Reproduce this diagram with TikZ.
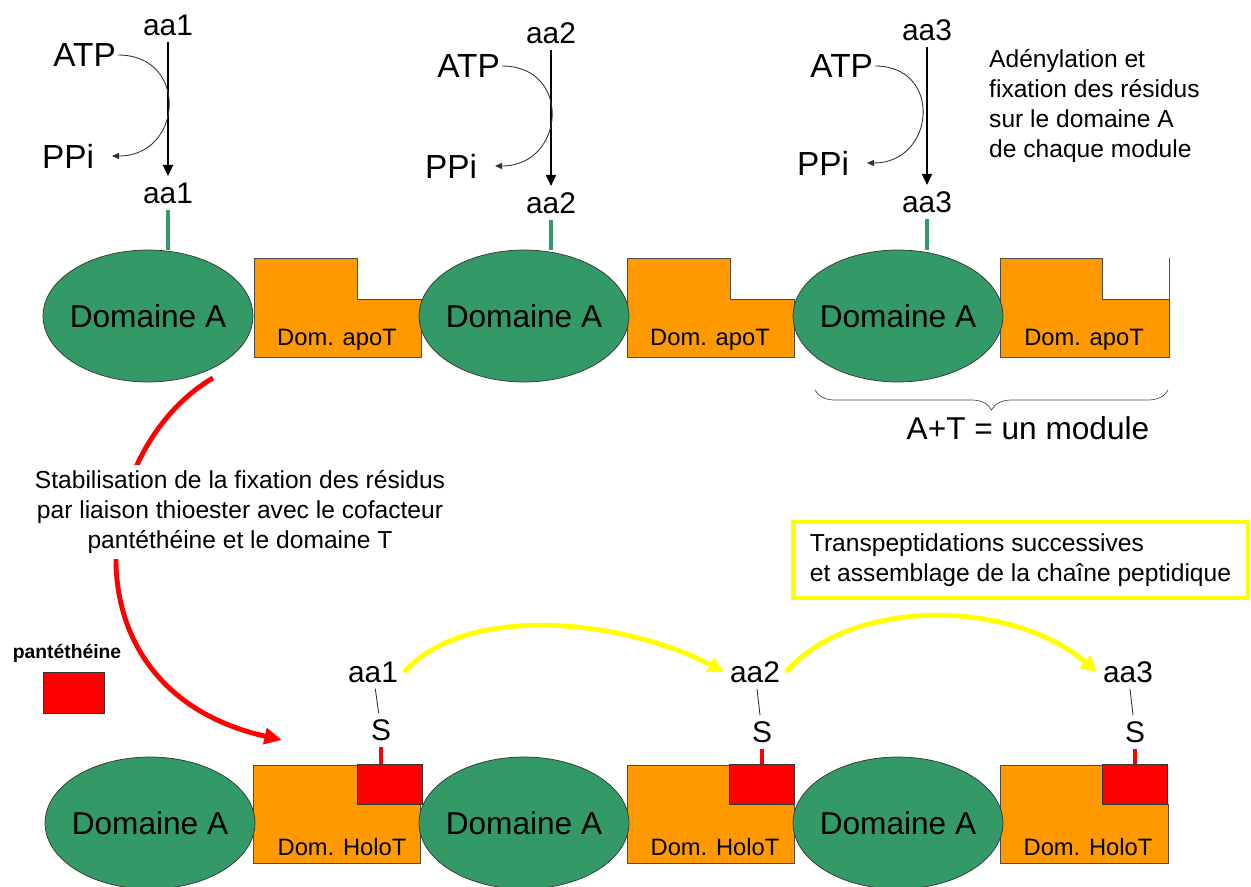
\documentclass[tikz,border=0pt]{standalone}
\usepackage{fontspec}
\setmainfont{Liberation Sans}
\usepackage{xcolor}
\usetikzlibrary{arrows.meta, shapes.geometric, decorations.pathreplacing}
\definecolor{domgreen}{HTML}{339966}
\definecolor{domorange}{HTML}{FF9900}
\definecolor{pantred}{HTML}{FF0000}
\definecolor{transyellow}{HTML}{FFFF00}

\begin{document}
\begin{tikzpicture}[x=0.02cm, y=-0.02cm, >=Triangle]
    % Define styles for domains, labels and arrows
    \tikzstyle{domA} = [draw=black!80, fill=domgreen, ellipse, inner sep=0pt, minimum width=4.2cm, minimum height=2.64cm, font=\fontsize{18}{21}\selectfont]
    \tikzstyle{domT} = [draw=black!70, fill=domorange]
    \tikzstyle{tlabel} = [font=\fontsize{13.5}{16}\selectfont]
    \tikzstyle{amino} = [font=\fontsize{17}{20}\selectfont]
    \tikzstyle{chem} = [font=\fontsize{19}{22}\selectfont, inner sep=1pt]
    \tikzstyle{note} = [font=\fontsize{14}{17}\selectfont]
    \tikzstyle{panteth} = [draw=black!80, fill=pantred, minimum width=1.3cm, minimum height=0.8cm, inner sep=0pt]
    \tikzstyle{activation} = [-{Triangle[length=6.5pt,width=5.5pt]}, line width=1.6pt]
    \tikzstyle{cofactor} = [-{Triangle[length=4pt,width=3.5pt]}, line width=0.5pt, draw=black!80]
    \tikzstyle{greenstick} = [draw=domgreen, line width=2.3pt]
    \tikzstyle{redstick} = [draw=pantred, line width=2.3pt]
    \tikzstyle{bond} = [draw=black!80, line width=0.5pt]
    \tikzstyle{stabarrow} = [draw=pantred, line width=2.8pt, -{Triangle[length=10pt,width=9pt]}]
    \tikzstyle{transfer} = [draw=transyellow, line width=2.8pt, -{Triangle[length=9pt,width=9pt]}]

    \useasboundingbox (0,0) rectangle (1251,886);

    % Top row: apo T domains
    \draw[domT] (254,258) -- (357,258) -- (357,299) -- (421,299) -- (421,357) -- (254,357) -- cycle;
    \draw[domT] (627,258) -- (730,258) -- (730,299) -- (794,299) -- (794,357) -- (627,357) -- cycle;
    \draw[domT] (1000,258) -- (1102,258) -- (1102,299) -- (1169,299) -- (1169,357) -- (1000,357) -- cycle;
    \draw[black!70] (1169,299) -- (1169,258);
    \node[tlabel] (T1) at (337,340) {Dom. apoT};
    \node[tlabel] (T2) at (710,340) {Dom. apoT};
    \node[tlabel] (T3) at (1084,340) {Dom. apoT};

    % Top row: A domains
    \node[domA] (A1) at (148,316) {\makebox[0pt]{Domaine A}};
    \node[domA] (A2) at (524,316) {\makebox[0pt]{Domaine A}};
    \node[domA] (A3) at (898,316) {\makebox[0pt]{Domaine A}};

    % Adenylation of the residues
    \node[amino] (t1) at (168,25) {aa1};
    \node[amino] (b1) at (168,193) {aa1};
    \node[amino] (t2) at (551,33) {aa2};
    \node[amino] (b2) at (551,203) {aa2};
    \node[amino] (t3) at (927,30) {aa3};
    \node[amino] (b3) at (927,202) {aa3};

    \node[chem, anchor=east] (ATP1) at (118,55) {ATP};
    \node[chem, anchor=east, inner xsep=10pt] (PPi1) at (112,156) {PPi};
    \node[chem, anchor=east] (ATP2) at (502,66) {ATP};
    \node[chem, anchor=east, inner xsep=10pt] (PPi2) at (495,166) {PPi};
    \node[chem, anchor=east] (ATP3) at (875,66) {ATP};
    \node[chem, anchor=east, inner xsep=10pt] (PPi3) at (867,163) {PPi};

    \draw[activation] (t1) -- (b1);
    \draw[activation] (t2) -- (b2);
    \draw[activation] (t3) -- (b3);
    \draw[cofactor] (ATP1.east) to[out=0, in=0, looseness=1.8] (PPi1.east);
    \draw[cofactor] (ATP2.east) to[out=0, in=0, looseness=1.8] (PPi2.east);
    \draw[cofactor] (ATP3.east) to[out=0, in=0, looseness=1.8] (PPi3.east);

    \draw[greenstick] (b1) -- (b1 |- A1.north);
    \draw[greenstick] (b2) -- (b2 |- A2.north);
    \draw[greenstick] (b3) -- (b3 |- A3.north);

    \node[note, anchor=west, align=left] (adenyl) at (983,106) {Adénylation et\\fixation des résidus\\sur le domaine A\\de chaque module};

    % One module
    \coordinate (braceL) at (815,390);
    \coordinate (braceR) at (1168,390);
    \draw[black!70, decorate, decoration={brace, mirror, amplitude=0.4cm}] (braceL) -- (braceR);
    \node[font=\fontsize{18}{21}\selectfont] (modlabel) at (1028,428) {A+T = un module};

    % Thioester stabilisation
    \coordinate (redstart) at (213,378);
    \coordinate (redend) at (282,740);
    \draw[stabarrow] (redstart) .. controls (90,450) and (60,690) .. (redend);
    \node[note, align=center, fill=white] (stabil) at (240,512) {Stabilisation de la fixation des résidus\\par liaison thioester avec le cofacteur\\pantéthéine et le domaine T};

    \node[font=\bfseries\fontsize{11}{13}\selectfont] (pantlabel) at (67,653) {pantéthéine};
    \node[panteth, minimum width=1.22cm, minimum height=0.82cm] (pantkey) at (73.5,692.5) {};

    % Bottom row: holo T domains
    \draw[domT] (253,765) -- (357,765) -- (357,804) -- (420,804) -- (420,863) -- (253,863) -- cycle;
    \draw[domT] (627,765) -- (729,765) -- (729,804) -- (794,804) -- (794,863) -- (627,863) -- cycle;
    \draw[domT] (1000,765) -- (1102,765) -- (1102,804) -- (1168,804) -- (1168,863) -- (1000,863) -- cycle;
    \node[panteth] (P1) at (389.5,784) {};
    \node[panteth] (P2) at (762,784) {};
    \node[panteth] (P3) at (1134.5,784) {};
    \node[tlabel] (H1) at (342,847) {Dom. HoloT};
    \node[tlabel] (H2) at (715,847) {Dom. HoloT};
    \node[tlabel] (H3) at (1088,847) {Dom. HoloT};

    % Bottom row: A domains
    \node[domA] (B1) at (150,823) {\makebox[0pt]{Domaine A}};
    \node[domA] (B2) at (524,823) {\makebox[0pt]{Domaine A}};
    \node[domA] (B3) at (898,823) {\makebox[0pt]{Domaine A}};

    % Thioester bound residues
    \node[amino] (ab1) at (373,672) {aa1};
    \node[amino, below of=ab1, node distance=1.16cm, xshift=0.16cm] (S1) {S};
    \node[amino] (ab2) at (755,672) {aa2};
    \node[amino, below of=ab2, node distance=1.2cm, xshift=0.14cm] (S2) {S};
    \node[amino] (ab3) at (1128,672) {aa3};
    \node[amino, below of=ab3, node distance=1.2cm, xshift=0.14cm] (S3) {S};

    \draw[bond] (ab1) -- (S1);
    \draw[bond] (ab2) -- (S2);
    \draw[bond] (ab3) -- (S3);
    \draw[redstick] (S1) -- (S1 |- P1.north);
    \draw[redstick] (S2) -- (S2 |- P2.north);
    \draw[redstick] (S3) -- (S3 |- P3.north);

    % Transpeptidations
    \draw[transfer] (ab1.east) .. controls (470,600) and (630,622) .. (ab2.west);
    \draw[transfer] (ab2.east) .. controls (850,598) and (1010,598) .. (ab3.west);
    \node[note, draw=transyellow, line width=2.8pt, align=left, minimum width=9.1cm, minimum height=1.52cm] (transbox) at (1020.5,560) {Transpeptidations successives\\et assemblage de la chaîne peptidique};
\end{tikzpicture}
\end{document}
